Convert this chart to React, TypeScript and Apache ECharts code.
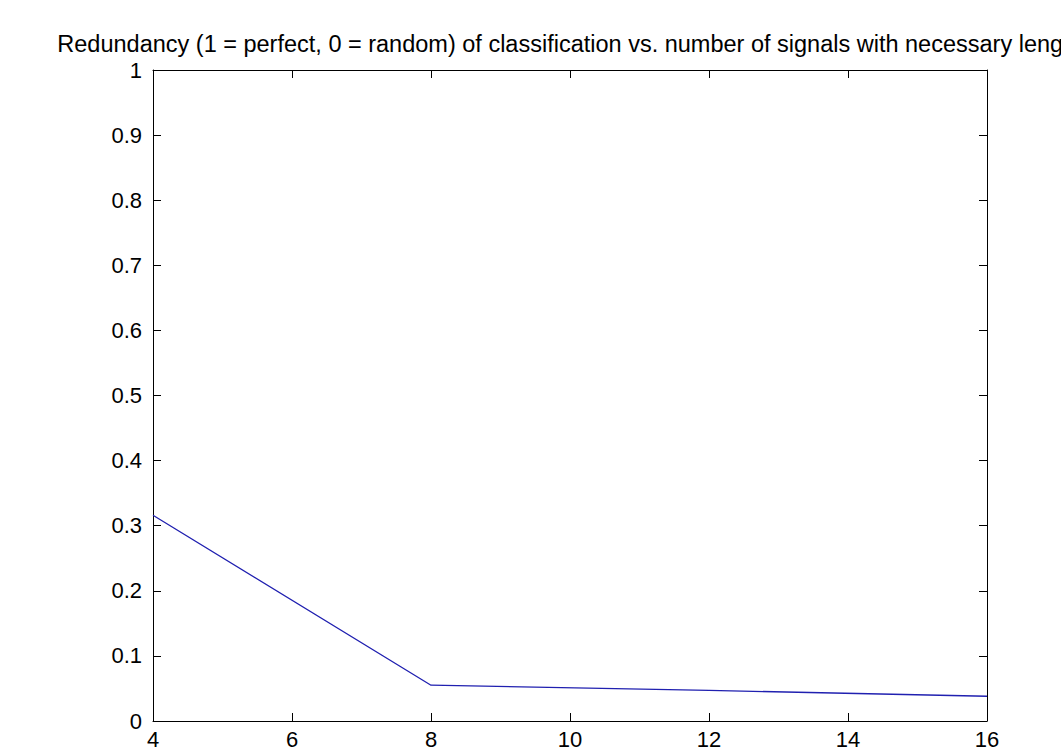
import React, { useEffect, useRef } from "react";
import * as echarts from "echarts";

const titleText =
  "Redundancy (1 = perfect, 0 = random) of classification vs. number of signals with necessary length";
const xValues = [4, 8, 12, 16];
const redundancy = [0.316, 0.055, 0.047, 0.038];
const xTicks = { min: 4, max: 16, interval: 2 };
const yTicks = { min: 0, max: 1, interval: 0.1 };

const FONT = "'Liberation Sans', Arial, Helvetica, sans-serif";

export default function App() {
  const ref = useRef<HTMLDivElement>(null);
  useEffect(() => {
    document.body.style.margin = "0";
    document.body.style.overflow = "hidden";
    document.documentElement.style.overflow = "hidden";
    const chart = echarts.init(ref.current!, null, { renderer: "svg" });
    const grid = { left: 153, right: 74, top: 70, bottom: 22 };
    const axisLineStyle = { color: "#000", width: 1 };
    const fmtY = (v: number) => String(Number(v.toFixed(1)));
    chart.setOption({
      animation: false,
      backgroundColor: "#fff",
      grid,
      graphic: [
        {
          type: "text",
          x: (grid.left + (1061 - grid.right)) / 2,
          y: 44,
          style: {
            text: titleText,
            font: `23.5px ${FONT}`,
            fill: "#000",
            textAlign: "center",
            textVerticalAlign: "middle",
          },
        },
      ],
      xAxis: [
        {
          type: "value",
          position: "bottom",
          ...xTicks,
          axisLine: { show: true, onZero: false, lineStyle: axisLineStyle },
          axisTick: { show: true, inside: true, length: 8, lineStyle: axisLineStyle },
          axisLabel: {
            show: true,
            margin: 7,
            fontFamily: FONT,
            fontSize: 22,
            color: "#000",
          },
          splitLine: { show: false },
        },
        {
          type: "value",
          position: "top",
          ...xTicks,
          axisLine: { show: true, onZero: false, lineStyle: axisLineStyle },
          axisTick: { show: true, inside: true, length: 8, lineStyle: axisLineStyle },
          axisLabel: { show: false },
          splitLine: { show: false },
        },
      ],
      yAxis: [
        {
          type: "value",
          position: "left",
          ...yTicks,
          axisLine: { show: true, onZero: false, lineStyle: axisLineStyle },
          axisTick: { show: true, inside: true, length: 8, lineStyle: axisLineStyle },
          axisLabel: {
            show: true,
            margin: 11,
            fontFamily: FONT,
            fontSize: 22,
            color: "#000",
            padding: [0, 0, 6, 0],
            formatter: fmtY,
          },
          splitLine: { show: false },
        },
        {
          type: "value",
          position: "right",
          ...yTicks,
          axisLine: { show: true, onZero: false, lineStyle: axisLineStyle },
          axisTick: { show: true, inside: true, length: 8, lineStyle: axisLineStyle },
          axisLabel: { show: false },
          splitLine: { show: false },
        },
      ],
      series: [
        {
          type: "line",
          xAxisIndex: 0,
          yAxisIndex: 0,
          data: xValues.map((x, i) => [x, redundancy[i]]),
          showSymbol: false,
          symbol: "none",
          lineStyle: { color: "#2020b0", width: 1.3 },
          silent: true,
        },
      ],
    });
    return () => chart.dispose();
  }, []);
  return <div ref={ref} style={{ width: 1061, height: 750, overflow: "hidden" }} />;
}
